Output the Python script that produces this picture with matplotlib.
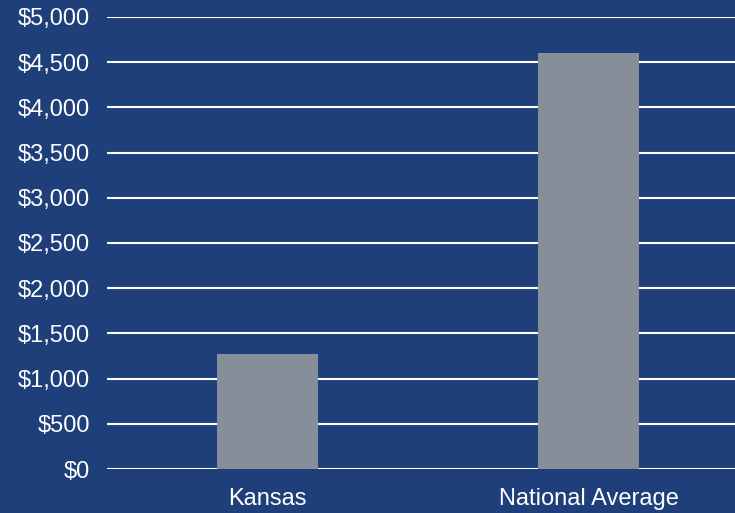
import matplotlib.pyplot as plt
from matplotlib.ticker import FuncFormatter

categories = ['Kansas', 'National Average']
values = [1270, 4600]
yticks = [0, 500, 1000, 1500, 2000, 2500, 3000, 3500, 4000, 4500, 5000]

bg = '#1f3f7a'
bar_color = '#868e9a'

plt.rcParams['font.family'] = ['Liberation Sans', 'DejaVu Sans']

fig = plt.figure(figsize=(7.35, 5.13), dpi=100, facecolor=bg)
ax = fig.add_axes([107 / 735, 1 - 469 / 513, 1 - 107 / 735, (469 - 17) / 513])
ax.set_facecolor(bg)

x = range(len(categories))
ax.bar(x, values, width=0.315, color=bar_color, zorder=3)

ax.set_ylim(0, 5000)
ax.set_xlim(-0.5, 1.456)
ax.set_yticks(yticks)
ax.yaxis.set_major_formatter(FuncFormatter(lambda v, p: f'${v:,.0f}'))
ax.set_xticks(list(x))
ax.set_xticklabels(categories)

ax.grid(axis='y', color='white', linewidth=1.5, zorder=1)
ax.tick_params(axis='both', colors='white', labelsize=17, length=0)
ax.tick_params(axis='y', pad=12)
ax.tick_params(axis='x', pad=14)
for s in ax.spines.values():
    s.set_visible(False)

fig.savefig('out.png', dpi=100, facecolor=bg)
